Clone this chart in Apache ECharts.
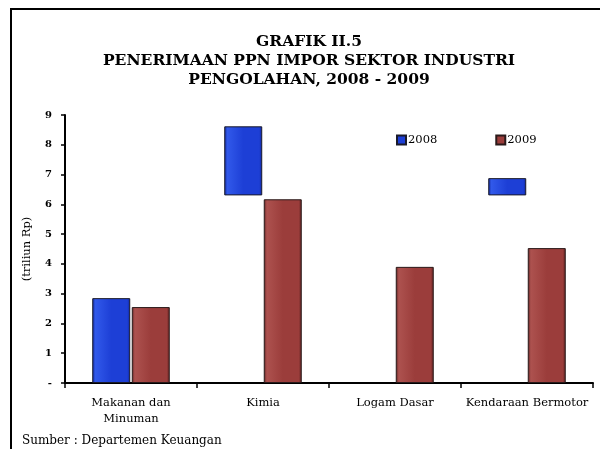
<!DOCTYPE html>
<html>
<head>
<meta charset="utf-8">
<script src="https://cdn.jsdelivr.net/npm/echarts@6/dist/echarts.min.js"></script>
<style>html,body{margin:0;padding:0;background:#fff;}#c{width:600px;height:449px;}</style>
</head>
<body>
<div id="c"></div>
<script>
const categories = ['Makanan dan\nMinuman', 'Kimia', 'Logam Dasar', 'Kendaraan Bermotor'];
const values2008 = [2.85, 8.62, null, 6.88];
const hiddenBelow2008 = [0, 6.3, null, 6.3];
const values2009 = [2.55, 6.17, 3.9, 4.53];
const yTicks = ['-', '1', '2', '3', '4', '5', '6', '7', '8', '9'];

const visible2008 = values2008.map((v, i) => v == null ? null : +(v - hiddenBelow2008[i]).toFixed(2));

const serif = 'DejaVu Serif';
function grad(edge, mid, light) {
  return new echarts.graphic.LinearGradient(0, 0, 1, 0, [
    {offset: 0, color: edge}, {offset: 0.08, color: light}, {offset: 0.5, color: mid},
    {offset: 0.92, color: mid}, {offset: 1, color: edge}
  ]);
}
const blue = grad('#0f2596', '#1d3fd6', '#3159ea');
const red = grad('#5e2221', '#9b3d3b', '#ad524f');

const chart = echarts.init(document.getElementById('c'), null, {renderer: 'canvas'});
chart.setOption({
  animation: false,
  backgroundColor: '#fff',
  grid: {left: 65, right: 7, top: 115, bottom: 66, containLabel: false},
  legend: {
    data: [{name: '2008', itemStyle: {color: '#1d3fd6'}}, {name: '2009', itemStyle: {color: '#9b3d3b'}}],
    left: 391, top: 129, itemWidth: 9, itemHeight: 9, itemGap: 58,
    icon: 'rect',
    textStyle: {fontFamily: serif, fontSize: 11.5, color: '#000', padding: [0, 0, 0, -3]}
  },
  xAxis: {
    type: 'category', data: categories,
    axisLine: {lineStyle: {color: '#000', width: 2}},
    axisTick: {show: true, length: 5, lineStyle: {color: '#000', width: 1.5}},
    axisLabel: {fontFamily: serif, fontSize: 11.5, color: '#000', margin: 12, lineHeight: 16, interval: 0}
  },
  yAxis: {
    type: 'value', min: 0, max: 9, interval: 1,
    name: '(triliun Rp)', nameLocation: 'middle', nameGap: 32, nameRotate: 90,
    nameTextStyle: {fontFamily: serif, fontSize: 11.5, color: '#000'},
    splitLine: {show: false},
    axisLine: {show: true, lineStyle: {color: '#000', width: 2}},
    axisTick: {show: true, length: 4, lineStyle: {color: '#000', width: 1.5}},
    axisLabel: {fontFamily: serif, fontSize: 10, fontWeight: 'bold', color: '#000', margin: 13,
      formatter: v => yTicks[Math.round(v)]}
  },
  series: [
    {name: 'base2008', type: 'bar', stack: 'a', data: hiddenBelow2008, barWidth: 38, barGap: '4%',
      itemStyle: {color: 'rgba(0,0,0,0)'}, silent: true, legendHoverLink: false},
    {name: '2008', type: 'bar', stack: 'a', data: visible2008, barWidth: 38,
      itemStyle: {color: blue, borderColor: '#1a1a2a', borderWidth: 1}},
    {name: '2009', type: 'bar', stack: 'b', data: values2009, barWidth: 38, barGap: '4%',
      itemStyle: {color: red, borderColor: '#2a1a1a', borderWidth: 1}}
  ],
  graphic: [
    {type: 'rect', shape: {x: 11, y: 9, width: 600, height: 460}, style: {fill: 'none', stroke: '#000', lineWidth: 2}, z: 100},
    {type: 'text', x: 309, y: 32, style: {text: 'GRAFIK II.5\nPENERIMAAN PPN IMPOR SEKTOR INDUSTRI\nPENGOLAHAN, 2008 - 2009',
      font: 'bold 15.5px "DejaVu Serif"', fill: '#000', align: 'center', lineHeight: 19}},
    {type: 'text', x: 22, y: 435, style: {text: 'Sumber : Departemen Keuangan', font: '12px "DejaVu Serif"', fill: '#000'}}
  ]
});
</script>
</body>
</html>
